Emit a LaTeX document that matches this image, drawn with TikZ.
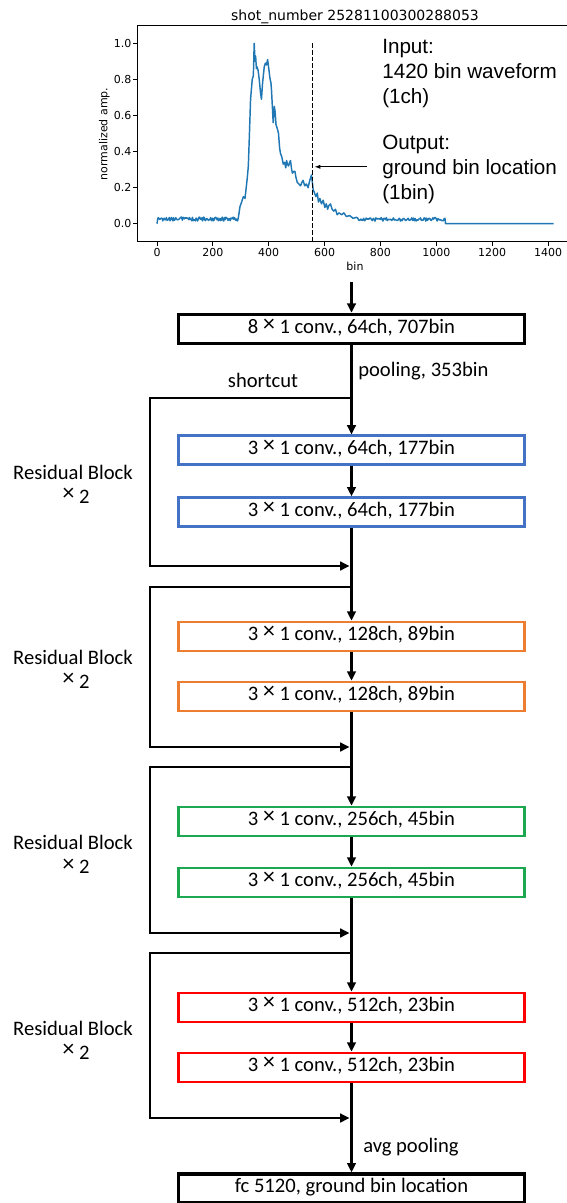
\documentclass[tikz,border=0pt]{standalone}
\usepackage{graphicx}
\usepackage{fontspec}
\setmainfont{Carlito}
\newfontfamily\arialf{Liberation Sans}
\newfontfamily\mplf{DejaVu Sans}
\usetikzlibrary{arrows.meta}
\definecolor{mplblue}{HTML}{1F77B4}
\definecolor{bblue}{HTML}{4472C4}
\definecolor{borange}{HTML}{ED7D31}
\definecolor{bgreen}{RGB}{28,168,80}
\definecolor{bred}{HTML}{FF0000}
\newcommand{\tmx}{\raisebox{0.1em}{\scalebox{1.15}{×}}}
\begin{document}
\begin{tikzpicture}[x=0.75pt,y=-0.75pt,
  conv/.style={draw, line width=2pt, minimum width=259.5pt, minimum height=21.75pt,
    inner sep=0pt, font=\fontsize{15.45}{18}\selectfont, text height=0.64em, text depth=0pt},
  blackbox/.style={conv, draw=black, line width=2.4pt},
  flow/.style={line width=2pt, line join=miter, -{Triangle[length=7pt,width=6.5pt]}},
  lbl/.style={inner sep=0pt, font=\fontsize{15.45}{18}\selectfont},
  annot/.style={inner sep=0pt, anchor=base west, font=\arialf\fontsize{15.5}{18}\selectfont},
  mpl/.style={inner sep=0pt, font=\mplf\fontsize{8.25}{10}\selectfont},
  spine/.style={line width=0.7pt, line cap=rect},
]
\useasboundingbox (0,0) rectangle (567,1203);

% ---------- plot ----------
\node[mpl, anchor=base, font=\mplf\fontsize{10.5}{12}\selectfont] (title) at (355,20) {shot\_number 25281100300288053};
\draw[spine] (137,241.7) -- (137,25.3) -- (580,25.3);
\draw[spine] (137,241.7) -- (580,241.7);
\foreach \v [count=\i] in {0,200,400,600,800,1000,1200,1400} {
  \pgfmathsetmacro\px{157+0.27929*\v}
  \draw[line width=0.7pt] (\px,241.7) -- (\px,245.7);
  \node[mpl, anchor=base] (xt\i) at (\px,256.7) {\v};
}
\foreach \v/\lab [count=\i] in {0/0.0,0.2/0.2,0.4/0.4,0.6/0.6,0.8/0.8,1.0/1.0} {
  \pgfmathsetmacro\py{223.7-180.4*\v}
  \draw[line width=0.7pt] (137,\py) -- (133,\py);
  \pgfmathsetmacro\pb{\py+4}
  \node[mpl, anchor=base east] (yt\i) at (131.7,\pb) {\lab};
}
\node[mpl, anchor=base] (xlab) at (355,270.7) {bin};
\node[mpl, anchor=base, rotate=90] (ylab) at (107.3,134) {normalized amp.};

\begin{scope}[shift={(157,223.7)}, x=0.20947pt, y=135.3pt]
  \pgfmathsetseed{4242}
  \draw[mplblue, line width=1.1pt, line join=round]
    (0,0) -- (3,0.03)
    -- plot[domain=5:288, samples=110] (\x,{0.026+0.011*rand})
    -- (291,0.03) -- (297,0.094) -- (303,0.12) -- (309,0.15) -- (315,0.14) -- (318,0.18)
    -- (323,0.25) -- (327,0.32) -- (331,0.5) -- (335,0.69) -- (341,0.8) -- (345,0.82)
    -- (348,1.0) -- (351,0.9) -- (353,0.93) -- (356,0.86) -- (358,0.87) -- (362,0.85)
    -- (366,0.8) -- (371,0.72) -- (374,0.69) -- (378,0.78) -- (380,0.81) -- (384,0.87)
    -- (388,0.89) -- (392,0.88) -- (396,0.91) -- (401,0.85) -- (404,0.81) -- (408,0.78)
    -- (410,0.74) -- (414,0.62) -- (416,0.56) -- (420,0.65) -- (423,0.62) -- (426,0.55)
    -- (428,0.54) -- (432,0.52) -- (435,0.5) -- (439,0.42) -- (442,0.39) -- (447,0.37)
    -- (452,0.33) -- (457,0.34) -- (461,0.31) -- (464,0.35) -- (467,0.33) -- (471,0.32)
    -- (475,0.34) -- (478,0.35) -- (482,0.3) -- (485,0.28) -- (490,0.29) -- (494,0.29)
    -- (497,0.26) -- (502,0.23) -- (508,0.22) -- (514,0.21) -- (519,0.23) -- (523,0.24)
    -- (529,0.21) -- (535,0.22) -- (541,0.2) -- (547,0.24) -- (553,0.27) -- (557,0.22)
    -- (559,0.19) -- (564,0.17) -- (569,0.15) -- (574,0.17) -- (578,0.12) -- (583,0.14)
    -- (589,0.11) -- (595,0.13) -- (601,0.09) -- (606,0.11) -- (611,0.08) -- (615,0.1)
    -- (621,0.11) -- (627,0.08) -- (633,0.07) -- (639,0.08) -- (645,0.05) -- (652,0.06)
    -- (661,0.05) -- (669,0.06) -- (678,0.04) -- (690,0.045) -- (702,0.03) -- (714,0.035)
    -- plot[domain=718:1028, samples=100] (\x,{0.024+0.01*rand})
    -- (1031,0.03) -- (1033,0) -- (1420,0);
\end{scope}

\coordinate (dashT) at (312.8,43.3);
\coordinate (dashB) at (312.8,241.7);
\draw[line width=0.9pt, dash pattern=on 3.5pt off 1.5pt] (dashT) -- (dashB);

\node[annot] (in1) at (382,53) {Input:};
\node[annot] (in2) at (382,78) {1420 bin waveform};
\node[annot] (in3) at (382,103) {(1ch)};
\node[annot] (out1) at (382,149) {Output:};
\node[annot] (out2) at (382,174) {ground bin location};
\node[annot] (out3) at (382,199) {(1bin)};
\coordinate (arrS) at (367,166.8);
\coordinate (arrE) at (314.3,166.8);
\draw[line width=0.8pt, -{Latex[length=4.5pt,width=3.2pt]}] (arrS) -- (arrE);

% ---------- network ----------
\coordinate (plotout) at (351.5,282);
\node[blackbox] (c0) at (351.5,328.8) {8 \tmx\ 1 conv., 64ch, 707bin};
\node[conv, draw=bblue] (b1) at (351.5,450.3) {3 \tmx\ 1 conv., 64ch, 177bin};
\node[conv, draw=bblue] (b2) at (351.5,512.2) {3 \tmx\ 1 conv., 64ch, 177bin};
\node[conv, draw=borange] (o1) at (351.5,636.5) {3 \tmx\ 1 conv., 128ch, 89bin};
\node[conv, draw=borange] (o2) at (351.5,696.5) {3 \tmx\ 1 conv., 128ch, 89bin};
\node[conv, draw=bgreen] (g1) at (351.5,821.5) {3 \tmx\ 1 conv., 256ch, 45bin};
\node[conv, draw=bgreen] (g2) at (351.5,882.5) {3 \tmx\ 1 conv., 256ch, 45bin};
\node[conv, draw=bred] (r1) at (351.5,1007.5) {3 \tmx\ 1 conv., 512ch, 23bin};
\node[conv, draw=bred] (r2) at (351.5,1067.5) {3 \tmx\ 1 conv., 512ch, 23bin};
\node[blackbox] (fc) at (351.5,1188.5) {fc 5120, ground bin location};

\draw[flow] (plotout) -- (c0.north);
\draw[flow] (c0.south) -- (b1.north);
\draw[flow] (b1.south) -- (b2.north);
\draw[flow] (b2.south) -- (o1.north);
\draw[flow] (o1.south) -- (o2.north);
\draw[flow] (o2.south) -- (g1.north);
\draw[flow] (g1.south) -- (g2.north);
\draw[flow] (g2.south) -- (r1.north);
\draw[flow] (r1.south) -- (r2.north);
\draw[flow] (r2.south) -- (fc.north);

% shortcuts
\foreach \n/\br/\rt in {1/398/566, 2/587/747, 3/767/933, 4/953/1118} {
  \coordinate (br\n) at (352,\br);
  \coordinate (rt\n) at (349.5,\rt);
  \draw[flow] (br\n) -- (150,\br) -- (150,\rt) -- (rt\n);
}

\node[lbl, anchor=base west] (pool) at (358,376) {pooling, 353bin};
\node[lbl, anchor=base] (sc) at (263,387.7) {shortcut};
\node[lbl, anchor=base west] (avg) at (363,1152) {avg pooling};

\foreach \n/\y in {1/479, 2/664, 3/849.5, 4/1035} {
  \pgfmathsetmacro\yy{\y+24}
  \node[lbl, anchor=base] (rb\n) at (73,\y) {Residual Block};
  \node[lbl, anchor=base] (rx\n) at (76,\yy) {\tmx\ 2};
}
\end{tikzpicture}
\end{document}
